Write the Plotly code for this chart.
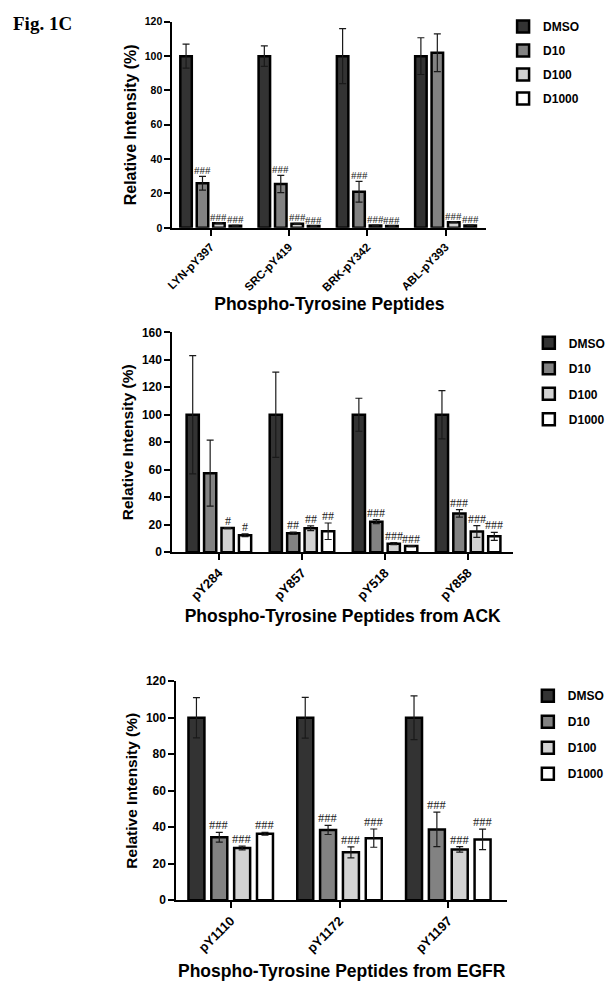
import plotly.graph_objects as go

W, H = 613, 986

series_names = ["DMSO", "D10", "D100", "D1000"]
fill_colors = ["#333333", "#828282", "#d2d2d2", "#ffffff"]

# Panel 1: Phospho-Tyrosine Peptides
cats1 = ["LYN-pY397", "SRC-pY419", "BRK-pY342", "ABL-pY393"]
dmso1 = [100, 100, 100, 100]
dmso1_err = [7, 6, 16, 10.7]
d10_1 = [26, 25.5, 21, 102]
d10_1_err = [4, 5, 6, 11]
d100_1 = [2.7, 2.3, 1.3, 3.3]
d100_1_err = [0.3, 0.3, 0.2, 0.3]
d1000_1 = [1.2, 1.1, 1.1, 1.4]
d1000_1_err = [0.2, 0.2, 0.2, 0.2]
sig1_d10 = ["###", "###", "###", ""]
sig1_d100 = ["###", "###", "###", "###"]
sig1_d1000 = ["###", "###", "###", "###"]

# Panel 2: Phospho-Tyrosine Peptides from ACK
cats2 = ["pY284", "pY857", "pY518", "pY858"]
dmso2 = [100, 100, 100, 100]
dmso2_err = [43, 31, 12, 17.5]
d10_2 = [57.5, 13.8, 22.2, 28.2]
d10_2_err = [24, 0.8, 1.5, 2.7]
d100_2 = [17.5, 17.4, 6.2, 15]
d100_2_err = [0.4, 1.7, 0.8, 4.3]
d1000_2 = [12.3, 15.2, 4.4, 11.5]
d1000_2_err = [1, 6, 0.4, 2.9]
sig2_d10 = ["", "##", "###", "###"]
sig2_d100 = ["#", "##", "###", "###"]
sig2_d1000 = ["#", "##", "###", "###"]

# Panel 3: Phospho-Tyrosine Peptides from EGFR
cats3 = ["pY1110", "pY1172", "pY1197"]
dmso3 = [100, 100, 100]
dmso3_err = [11, 11.2, 12]
d10_3 = [34.5, 38.5, 38.8]
d10_3_err = [2.7, 2.5, 9.5]
d100_3 = [28.6, 26.2, 27.8]
d100_3_err = [1, 3, 1.5]
d1000_3 = [36.4, 34, 33.3]
d1000_3_err = [0.8, 5, 5.6]
sig3_d10 = ["###", "###", "###"]
sig3_d100 = ["###", "###", "###"]
sig3_d1000 = ["###", "###", "###"]

y_ticks1 = [0, 20, 40, 60, 80, 100, 120]
y_ticks2 = [0, 20, 40, 60, 80, 100, 120, 140, 160]
y_ticks3 = [0, 20, 40, 60, 80, 100, 120]

panels = [
    dict(cats=cats1, vals=[dmso1, d10_1, d100_1, d1000_1],
         errs=[dmso1_err, d10_1_err, d100_1_err, d1000_1_err],
         sigs=[None, sig1_d10, sig1_d100, sig1_d1000],
         title="Phospho-Tyrosine Peptides", yticks=y_ticks1,
         xdom=(168, 485), ydom=(15, 224), xr=(-0.49, 3.52),
         xtick_size=11.5, ytick_size=10.5, ytitle_size=16, xstand=5,
         sig_size=11,
         legend_text_x=542, legend_top=5, leg_gap=5),
    dict(cats=cats2, vals=[dmso2, d10_2, d100_2, d1000_2],
         errs=[dmso2_err, d10_2_err, d100_2_err, d1000_2_err],
         sigs=[None, sig2_d10, sig2_d100, sig2_d1000],
         title="Phospho-Tyrosine Peptides from ACK", yticks=y_ticks2,
         xdom=(168, 512), ydom=(330, 553), xr=(-0.56, 3.54),
         xtick_size=13, ytick_size=12, ytitle_size=15.5, xstand=8,
         sig_size=12,
         legend_text_x=568, legend_top=326, leg_gap=6.5),
    dict(cats=cats3, vals=[dmso3, d10_3, d100_3, d1000_3],
         errs=[dmso3_err, d10_3_err, d100_3_err, d1000_3_err],
         sigs=[None, sig3_d10, sig3_d100, sig3_d1000],
         title="Phospho-Tyrosine Peptides from EGFR", yticks=y_ticks3,
         xdom=(172, 506), ydom=(684, 906), xr=(-0.5, 2.54),
         xtick_size=13, ytick_size=12, ytitle_size=15.5, xstand=10,
         sig_size=12.5,
         legend_text_x=567, legend_top=684, leg_gap=7),
]

BARGAP = 0.16
BARGROUPGAP = 0.3
SANS = "Liberation Sans, Arial, sans-serif"
SERIF = "Liberation Serif, Times New Roman, serif"

fig = go.Figure()
annotations = []
layout_axes = {}
slot = (1 - BARGAP) / len(series_names)

for p_i, p in enumerate(panels, start=1):
    xa = "x" if p_i == 1 else f"x{p_i}"
    ya = "y" if p_i == 1 else f"y{p_i}"
    leg = "legend" if p_i == 1 else f"legend{p_i}"
    for k, name in enumerate(series_names):
        fig.add_trace(go.Bar(
            x=p["cats"], y=p["vals"][k], name=name,
            xaxis=xa, yaxis=ya, legend=leg,
            legendgroup=f"p{p_i}_{name}",
            marker=dict(color=fill_colors[k], line=dict(color="#000000", width=2.5)),
            error_y=dict(type="data", array=p["errs"][k], color="#1a1a1a",
                         thickness=1.2, width=3.5),
        ))
        sig = p["sigs"][k]
        if sig:
            off = -(1 - BARGAP) / 2 + slot * (k + 0.5)
            for j, s in enumerate(sig):
                if not s:
                    continue
                annotations.append(dict(
                    x=j + off, y=p["vals"][k][j] + p["errs"][k][j],
                    xref=xa, yref=ya, text=s, showarrow=False,
                    yanchor="bottom", xanchor="center", yshift=-1, borderpad=0,
                    font=dict(family=SERIF, size=p["sig_size"], color="#1a1a1a"),
                ))
    x0, x1 = p["xdom"]
    yt, yb = p["ydom"]
    xkey = "xaxis" if p_i == 1 else f"xaxis{p_i}"
    ykey = "yaxis" if p_i == 1 else f"yaxis{p_i}"
    layout_axes[xkey] = dict(
        domain=[x0 / W, x1 / W], anchor=ya, type="category",
        range=list(p["xr"]), showline=True, linecolor="black", linewidth=2,
        ticks="outside", ticklen=6, tickwidth=2, tickcolor="black",
        tickangle=-45, showgrid=False, zeroline=False,
        tickfont=dict(family=SANS, size=p["xtick_size"], color="black", weight="bold"),
        title=dict(text=p["title"], standoff=p["xstand"],
                   font=dict(family=SANS, size=17.5, color="black", weight="bold")),
    )
    top_val = p["yticks"][-1]
    layout_axes[ykey] = dict(
        domain=[1 - yb / H, 1 - yt / H], anchor=xa,
        range=[0, top_val], tickvals=p["yticks"],
        showline=True, linecolor="black", linewidth=2,
        ticks="outside", ticklen=6, tickwidth=2, tickcolor="black",
        showgrid=False, zeroline=False,
        tickfont=dict(family=SANS, size=p["ytick_size"], color="black", weight="bold"),
        title=dict(text="Relative Intensity (%)", standoff=4,
                   font=dict(family=SANS, size=p["ytitle_size"], color="black", weight="bold")),
    )
    lkey = "legend" if p_i == 1 else f"legend{p_i}"
    layout_axes[lkey] = dict(
        x=(p["legend_text_x"] - 40) / W, xanchor="left",
        y=1 - p["legend_top"] / H, yanchor="top",
        traceorder="grouped", tracegroupgap=p["leg_gap"],
        bgcolor="rgba(0,0,0,0)", borderwidth=0,
        font=dict(family=SANS, size=12, color="black", weight="bold"),
    )

annotations.append(dict(
    x=5 / W, y=1 - 17 / H, xref="paper", yref="paper", xanchor="left", yanchor="middle",
    text="<b>Fig. 1C</b>", showarrow=False,
    font=dict(family=SERIF, size=19, color="black"),
))

fig.update_layout(
    width=W, height=H,
    margin=dict(l=0, r=0, t=0, b=0),
    paper_bgcolor="white", plot_bgcolor="white",
    barmode="group", bargap=BARGAP, bargroupgap=BARGROUPGAP,
    showlegend=True,
    annotations=annotations,
    **layout_axes,
)

fig.write_html(
    "out.html",
    config={"displayModeBar": False},
    post_script="document.body.style.margin='0px';document.body.style.overflow='hidden';",
)
